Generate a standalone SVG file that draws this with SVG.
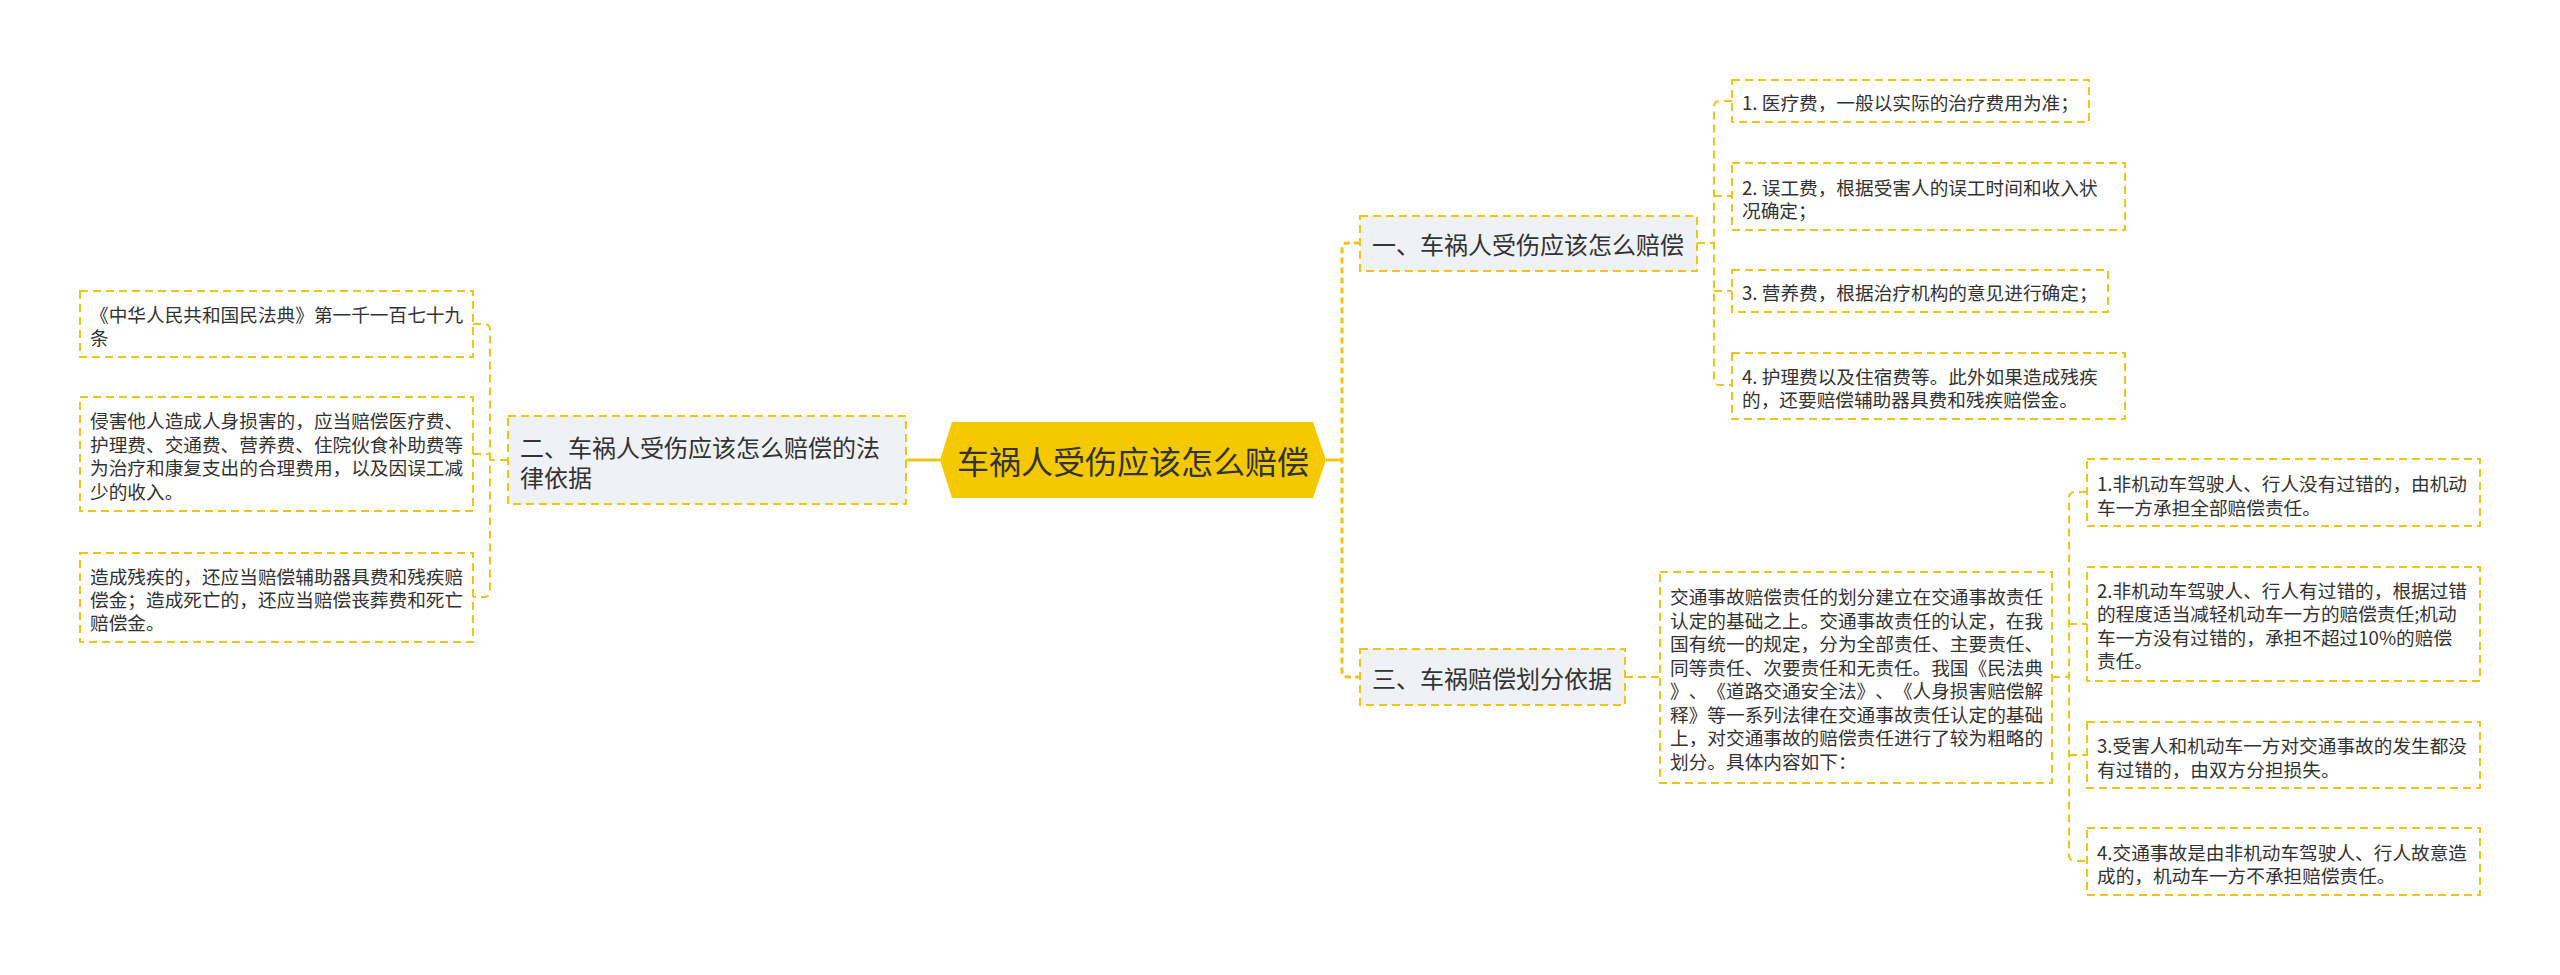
<svg xmlns="http://www.w3.org/2000/svg" width="2560" height="975" viewBox="0 0 2560 975">
<style>
text{font-family:"Noto Sans CJK SC","Noto Sans",sans-serif;fill:#333;dominant-baseline:central;text-spacing-trim:space-all;font-kerning:none}
.leaf rect{fill:#fff;stroke:#F0C419;stroke-width:2;stroke-dasharray:8 5}
.leaf text{font-size:18.67px}
.br rect{fill:#EEF1F5;stroke:#F0C419;stroke-width:2;stroke-dasharray:8 5}
.br text{font-size:24px}
.c{fill:none;stroke:#F0C419;stroke-width:2;stroke-dasharray:8 5}
.m{fill:none;stroke:#F0C419;stroke-width:3}
.md{fill:none;stroke:#F0C419;stroke-width:3;stroke-dasharray:6 4}
</style>
<rect width="2560" height="975" fill="#fff"/>
<g id="connectors">
<path class="m" d="M940,460 H906"/>
<path class="m" d="M1326,460 H1342"/>
<path class="md" d="M1360,243 H1348 Q1342,243 1342,249 V671 Q1342,677 1348,677 H1360"/>
<path class="c" d="M1697,243 H1714"/>
<path class="c" d="M1732,101 H1720 Q1714,101 1714,107 V379 Q1714,385 1720,385 H1732"/>
<path class="c" d="M1714,196 H1732 M1714,291 H1732"/>
<path class="c" d="M1625,677 H1660"/>
<path class="c" d="M2052,677 H2069"/>
<path class="c" d="M2087,492 H2075 Q2069,492 2069,498 V855 Q2069,861 2075,861 H2087"/>
<path class="c" d="M2069,624 H2087 M2069,755 H2087"/>
<path class="c" d="M508,460 H490"/>
<path class="c" d="M473,324 H484 Q490,324 490,330 V591 Q490,597 484,597 H473"/>
<path class="c" d="M473,454 H490"/>
</g>
<g id="root">
<polygon points="940,460 952,422 1313,422 1326,460 1313,498 952,498" fill="#F5C900"/>
<text x="1133" y="460" font-size="32" text-anchor="middle">车祸人受伤应该怎么赔偿</text>
</g>
<g id="b1" class="br">
<rect x="1360" y="216" width="337" height="55"/>
<text x="1372" y="243">一、车祸人受伤应该怎么赔偿</text>
</g>
<g id="b2" class="br">
<rect x="508" y="416" width="398" height="88"/>
<text x="520" y="446">二、车祸人受伤应该怎么赔偿的法</text>
<text x="520" y="476">律依据</text>
</g>
<g id="b3" class="br">
<rect x="1360" y="649" width="265" height="56"/>
<text x="1372" y="677">三、车祸赔偿划分依据</text>
</g>
<g id="l1" class="leaf">
<rect x="80" y="291" width="393" height="66"/>
<text x="90" y="313">《中华人民共和国民法典》第一千一百七十九</text>
<text x="90" y="336">条</text>
</g>
<g id="l2" class="leaf">
<rect x="80" y="397" width="393" height="114"/>
<text x="90" y="419">侵害他人造成人身损害的，应当赔偿医疗费、</text>
<text x="90" y="443">护理费、交通费、营养费、住院伙食补助费等</text>
<text x="90" y="466">为治疗和康复支出的合理费用，以及因误工减</text>
<text x="90" y="490">少的收入。</text>
</g>
<g id="l3" class="leaf">
<rect x="80" y="553" width="393" height="89"/>
<text x="90" y="575">造成残疾的，还应当赔偿辅助器具费和残疾赔</text>
<text x="90" y="598">偿金；造成死亡的，还应当赔偿丧葬费和死亡</text>
<text x="90" y="621">赔偿金。</text>
</g>
<g id="r1a" class="leaf">
<rect x="1732" y="80" width="357" height="42"/>
<text x="1742" y="101">1. 医疗费，一般以实际的治疗费用为准；</text>
</g>
<g id="r1b" class="leaf">
<rect x="1732" y="163" width="393" height="67"/>
<text x="1742" y="186">2. 误工费，根据受害人的误工时间和收入状</text>
<text x="1742" y="209">况确定；</text>
</g>
<g id="r1c" class="leaf">
<rect x="1732" y="270" width="376" height="42"/>
<text x="1742" y="291">3. 营养费，根据治疗机构的意见进行确定；</text>
</g>
<g id="r1d" class="leaf">
<rect x="1732" y="353" width="393" height="66"/>
<text x="1742" y="375">4. 护理费以及住宿费等。此外如果造成残疾</text>
<text x="1742" y="398">的，还要赔偿辅助器具费和残疾赔偿金。</text>
</g>
<g id="t3" class="leaf">
<rect x="1660" y="572" width="392" height="211"/>
<text x="1670" y="595">交通事故赔偿责任的划分建立在交通事故责任</text>
<text x="1670" y="619">认定的基础之上。交通事故责任的认定，在我</text>
<text x="1670" y="642">国有统一的规定，分为全部责任、主要责任、</text>
<text x="1670" y="666">同等责任、次要责任和无责任。我国《民法典</text>
<text x="1670" y="689">》、《道路交通安全法》、《人身损害赔偿解</text>
<text x="1670" y="713">释》等一系列法律在交通事故责任认定的基础</text>
<text x="1670" y="736">上，对交通事故的赔偿责任进行了较为粗略的</text>
<text x="1670" y="760">划分。具体内容如下：</text>
</g>
<g id="r3a" class="leaf">
<rect x="2087" y="459" width="393" height="67"/>
<text x="2097" y="482">1.非机动车驾驶人、行人没有过错的，由机动</text>
<text x="2097" y="506">车一方承担全部赔偿责任。</text>
</g>
<g id="r3b" class="leaf">
<rect x="2087" y="567" width="393" height="114"/>
<text x="2097" y="589">2.非机动车驾驶人、行人有过错的，根据过错</text>
<text x="2097" y="612">的程度适当减轻机动车一方的赔偿责任;机动</text>
<text x="2097" y="636">车一方没有过错的，承担不超过10%的赔偿</text>
<text x="2097" y="659">责任。</text>
</g>
<g id="r3c" class="leaf">
<rect x="2087" y="722" width="393" height="66"/>
<text x="2097" y="744">3.受害人和机动车一方对交通事故的发生都没</text>
<text x="2097" y="768">有过错的，由双方分担损失。</text>
</g>
<g id="r3d" class="leaf">
<rect x="2087" y="828" width="393" height="67"/>
<text x="2097" y="851">4.交通事故是由非机动车驾驶人、行人故意造</text>
<text x="2097" y="874">成的，机动车一方不承担赔偿责任。</text>
</g>
</svg>
